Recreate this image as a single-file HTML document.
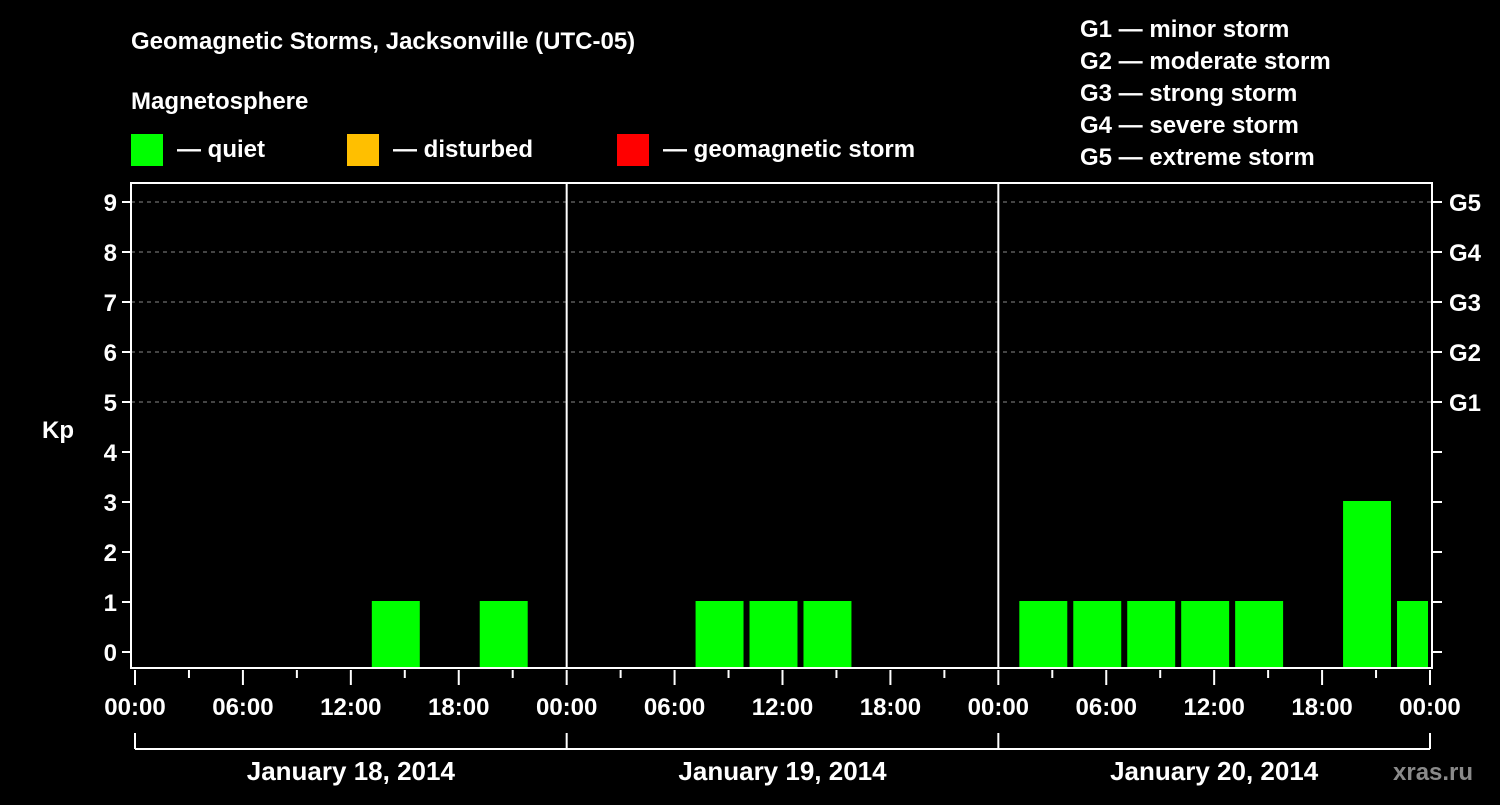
<!DOCTYPE html>
<html><head><meta charset="utf-8"><style>
body{margin:0;background:#000;width:1500px;height:800px;overflow:hidden}
svg text{font-family:"Liberation Sans",Arial,sans-serif;font-weight:bold;fill:#fff}
</style></head><body>
<svg id="chart" width="1500" height="800" xmlns="http://www.w3.org/2000/svg">
<text x="131" y="49" font-size="24">Geomagnetic Storms, Jacksonville (UTC-05)</text>
<text x="131" y="109" font-size="24">Magnetosphere</text>
<g><rect x="131" y="134" width="32" height="32" fill="#00ff00"/><text x="177" y="157" font-size="24">— quiet</text></g>
<g><rect x="347" y="134" width="32" height="32" fill="#ffbf00"/><text x="393" y="157" font-size="24">— disturbed</text></g>
<g><rect x="617" y="134" width="32" height="32" fill="#ff0000"/><text x="663" y="157" font-size="24">— geomagnetic storm</text></g>
<g font-size="24">
<text x="1080" y="37">G1 — minor storm</text>
<text x="1080" y="69">G2 — moderate storm</text>
<text x="1080" y="101">G3 — strong storm</text>
<text x="1080" y="133">G4 — severe storm</text>
<text x="1080" y="165">G5 — extreme storm</text>
</g>
<g id="grid"></g>
<g id="bars"></g>
<rect x="131" y="183" width="1301" height="485" fill="none" stroke="#fff" stroke-width="2"/>
<g id="axes"></g>
<text x="42" y="438" font-size="24">Kp</text>
<text x="1393" y="780" font-size="24" fill="#888" style="fill:#8a8a8a">xras.ru</text>
</svg>
<script>
const slotStarts=[-2,1,4,7,10,13,16,19,22,25,28,31,34,37,40,43,46,49,52,55,58,61,64,67,70];
const kpValues=[0,0,0,0,0,1,0,1,0,0,0,1,1,1,0,0,0,1,1,1,1,1,0,3,1];
const kpTicks=[0,1,2,3,4,5,6,7,8,9];
const gLabels=["G1","G2","G3","G4","G5"];
const dayLabels=["January 18, 2014","January 19, 2014","January 20, 2014"];
const hourLabels=["00:00","06:00","12:00","18:00"];
const NS="http://www.w3.org/2000/svg";
const X0=135,X1=1430,H=72,yb=668;
const x=h=>X0+(X1-X0)*h/H;
const y=k=>652-50*k;
function mk(tag,attrs,parent,txt){const e=document.createElementNS(NS,tag);for(const k in attrs)e.setAttribute(k,attrs[k]);if(txt!==undefined)e.textContent=txt;document.getElementById(parent).appendChild(e);return e;}
kpTicks.forEach(k=>{
  if(k>=5){const g=mk('line',{x1:131,x2:1432,y1:y(k),y2:y(k),stroke:'#888','stroke-dasharray':'4 4'},'grid');
  
  }
  const t=mk('line',{x1:122,x2:131,y1:y(k),y2:y(k),stroke:'#fff','stroke-width':2},'axes');
  
  
  const l=mk('text',{x:117,y:y(k)+9,'text-anchor':'end','font-size':24},'axes',k);
  
  
  const r=mk('line',{x1:1432,x2:1442,y1:y(k),y2:y(k),stroke:'#fff','stroke-width':2},'axes');
  
  
});
gLabels.forEach((g,i)=>{
  const l=mk('text',{x:1449,y:y(5+i)+9,'font-size':24},'axes',g);
  
  
});
slotStarts.forEach((s,i)=>{
  const v=kpValues[i]; if(!v)return;
  const a=Math.max(s,0)+ (s<0?0:0.17), b=Math.min(s+3,H)-(s+3>H?0.17:0.17);
  const xa=x(s)+3, xb=Math.min(x(s+3)-3,1428);
  const c=v>=5?'#ff0000':v>=4?'#ffbf00':'#00ff00';
  const r=mk('rect',{x:Math.max(xa,133),y:y(v)-1,width:xb-Math.max(xa,133),height:yb-y(v)+1,fill:c},'bars');
  
  
});
for(let h=0;h<=H;h+=3){
  const maj=h%6===0;
  const t=mk('line',{x1:x(h),x2:x(h),y1:670,y2:maj?685:678,stroke:'#fff','stroke-width':2},'axes');
  
  
  if(maj){
    const l=mk('text',{x:x(h),y:715,'text-anchor':'middle','font-size':24},'axes',hourLabels[(h%24)/6]);
    
    
  }
}
for(let d=1;d<3;d++){
  const s=mk('line',{x1:x(24*d),x2:x(24*d),y1:183,y2:668,stroke:'#fff','stroke-width':2},'axes');
  
  
}
const bl=mk('line',{x1:x(0),x2:x(H),y1:749,y2:749,stroke:'#fff','stroke-width':2},'axes');


for(let d=0;d<=3;d++){
  const v=mk('line',{x1:x(24*d),x2:x(24*d),y1:733,y2:749,stroke:'#fff','stroke-width':2},'axes');
  
  
}
dayLabels.forEach((t,d)=>{
  const l=mk('text',{x:x(24*d+12),y:780,'text-anchor':'middle','font-size':26},'axes',t);
  
  
});
</script>
</body></html>
